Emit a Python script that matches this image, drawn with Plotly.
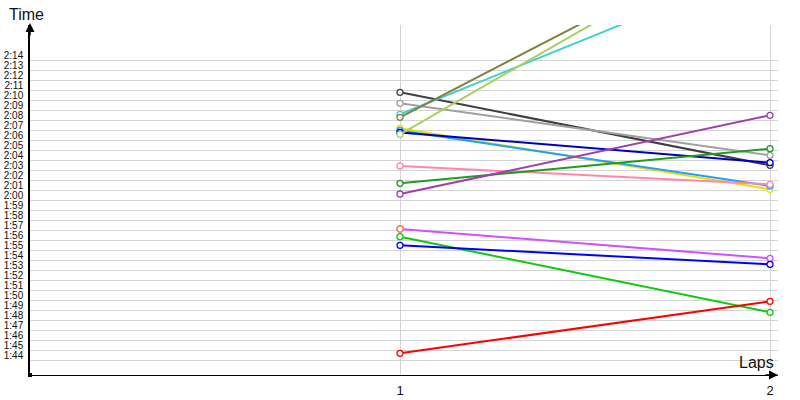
import plotly.graph_objects as go

laps = [1, 2]

# lap times in seconds for each car (None = no time recorded)
series_names = ["Black", "Grey", "Cyan", "Olive", "Yellow", "SkyBlue", "Navy",
                "LightGreen", "Pink", "ForestGreen", "Purple", "Magenta",
                "Orange", "Lime", "Blue", "Red"]
lap1_times = [130.77, 129.67, 128.57, 128.27, 127.17, 126.95, 126.75,
              126.57, 123.40, 121.67, 120.60, 117.10,
              117.10, 116.33, 115.47, 104.67]
lap2_times = [123.47, 124.47, 143.57, 147.40, 121.07, 121.40, 123.73,
              147.80, 121.57, 125.13, 128.47, 114.17,
              None, 108.77, 113.57, 109.87]

tick_values = list(range(104, 135))
tick_labels = ["1:44", "1:45", "1:46", "1:47", "1:48", "1:49", "1:50", "1:51",
               "1:52", "1:53", "1:54", "1:55", "1:56", "1:57", "1:58", "1:59",
               "2:00", "2:01", "2:02", "2:03", "2:04", "2:05", "2:06", "2:07",
               "2:08", "2:09", "2:10", "2:11", "2:12", "2:13", "2:14"]

colors = ["#404040", "#a0a0a0", "#40d0d0", "#808040", "#e8e000", "#1ea0ff",
          "#0000c0", "#a8d060", "#ff88aa", "#209a20", "#a040a8", "#d050ff",
          "#ff8040", "#10c810", "#0000ff", "#ff0000"]

fig = go.Figure()
for name, a, b, c in zip(series_names, lap1_times, lap2_times, colors):
    fig.add_trace(go.Scatter(
        x=laps, y=[a, b], name=name, mode="lines+markers",
        line=dict(color=c, width=2),
        marker=dict(symbol="circle", size=6, color="white",
                    line=dict(color=c, width=1.3)),
    ))

fig.update_layout(
    width=800, height=400,
    margin=dict(l=30, r=22, t=25, b=25, autoexpand=False),
    paper_bgcolor="white", plot_bgcolor="white",
    showlegend=False,
    font=dict(family="Liberation Sans", color="#111111"),
    xaxis=dict(
        range=[0, 2.0216], tickvals=laps, ticktext=["1", "2"],
        showgrid=True, gridcolor="#d4d4d4", gridwidth=1,
        zeroline=False, showline=True, linecolor="black", linewidth=1,
        ticks="", tickfont=dict(size=13, color="#111111"), automargin=False,
        ticklabelstandoff=3,
    ),
    yaxis=dict(
        range=[102.5, 137.5], tickvals=tick_values, ticktext=tick_labels,
        showgrid=True, gridcolor="#d4d4d4", gridwidth=1,
        zeroline=False, showline=True, linecolor="black", linewidth=1.5,
        ticks="", tickfont=dict(size=10, color="#111111"),
        ticklabelshift=-5, ticklabelstandoff=3, automargin=False,
    ),
)

# axis arrows
fig.add_annotation(xref="paper", yref="paper", x=0, y=1.0, ax=0, ay=14,
                   showarrow=True, arrowhead=2, arrowsize=1.2, arrowwidth=1.5,
                   arrowcolor="black", text="", yshift=2)
fig.add_annotation(xref="paper", yref="paper", x=1.0, y=0, ax=-14, ay=0,
                   showarrow=True, arrowhead=2, arrowsize=1.2, arrowwidth=1.5,
                   arrowcolor="black", text="")
# axis titles
fig.add_annotation(xref="paper", yref="paper", x=0, y=1, xanchor="center",
                   yanchor="bottom", xshift=-4, yshift=0, showarrow=False,
                   text="Time", font=dict(size=16, color="#111111"))
fig.add_annotation(xref="paper", yref="paper", x=1, y=0, xanchor="right",
                   yanchor="bottom", xshift=-2, yshift=2, showarrow=False,
                   text="Laps", font=dict(size=16, color="#111111"))
# origin marker
fig.add_shape(type="rect", xref="paper", yref="paper", xsizemode="pixel",
              ysizemode="pixel", xanchor=0, yanchor=0, x0=-2, x1=2, y0=-2, y1=2,
              fillcolor="black", line=dict(width=0))

fig.write_html("out.html", config={"displayModeBar": False},
               post_script="document.body.style.margin='0';document.body.style.overflow='hidden';")
